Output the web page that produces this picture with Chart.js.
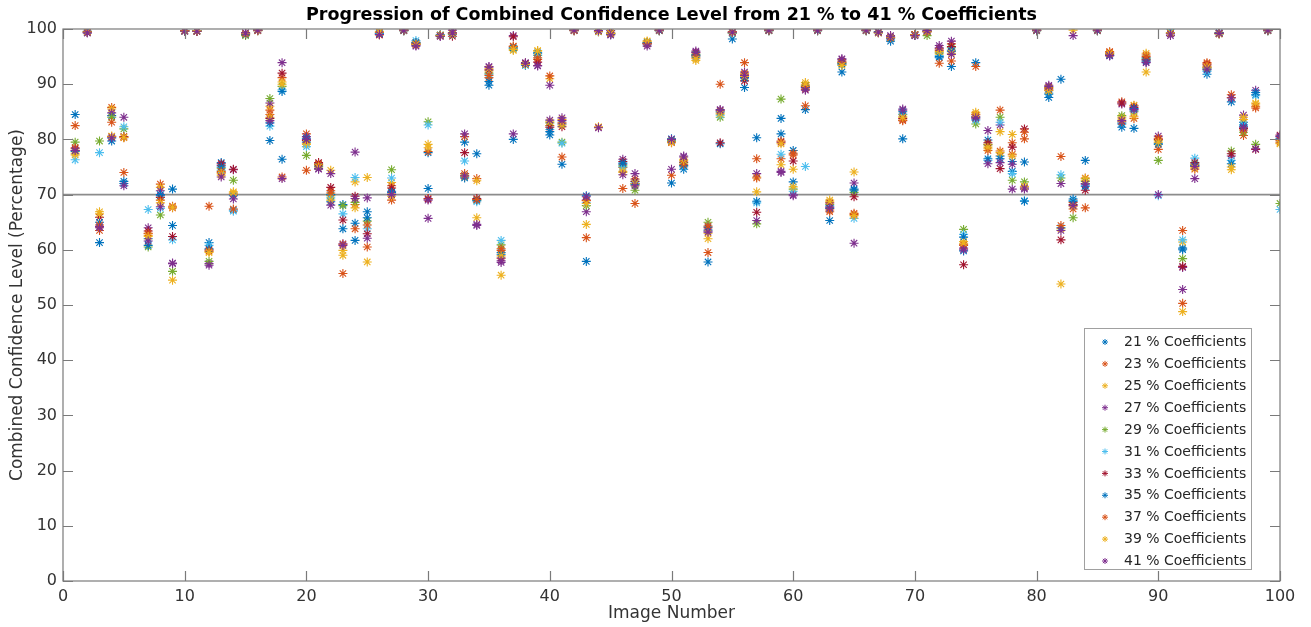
<!DOCTYPE html>
<html>
<head>
<meta charset="utf-8">
<script src="https://cdn.jsdelivr.net/npm/chart.js@4.4.1/dist/chart.umd.min.js"></script>
<style>
  html, body { margin: 0; padding: 0; background: #fff; }
  #wrap { width: 1311px; height: 627px; }
</style>
</head>
<body>
<div id="wrap"><canvas id="chart" width="1311" height="627"></canvas></div>
<script>
// image numbers on the x axis
const imageNumbers = [1,2,3,4,5,6,7,8,9,10,11,12,13,14,15,16,17,18,19,20,
  21,22,23,24,25,26,27,28,29,30,31,32,33,34,35,36,37,38,39,40,
  41,42,43,44,45,46,47,48,49,50,51,52,53,54,55,56,57,58,59,60,
  61,62,63,64,65,66,67,68,69,70,71,72,73,74,75,76,77,78,79,80,
  81,82,83,84,85,86,87,88,89,90,91,92,93,94,95,96,97,98,99,100];

// confidence level (%) per image, one list per coefficient share (null = no point)
const coeff21 = [84.5,99.4,61.3,84.3,72.4,null,62.0,69.8,71.0,99.7,
  99.6,61.3,75.8,67.2,99.1,99.8,79.8,76.4,null,79.5,
  75.3,70.0,68.2,61.7,66.9,99.2,70.6,99.8,97.6,77.6,
  98.8,99.2,79.5,77.4,89.8,59.5,80.0,93.6,95.6,80.8,
  75.5,99.8,57.9,99.6,99.2,75.5,72.0,97.5,99.8,72.1,
  74.6,95.2,57.8,79.2,98.2,89.4,80.3,99.8,83.8,78.0,
  85.4,99.8,65.3,92.2,70.8,99.8,99.4,97.8,80.1,99.0,
  99.6,94.8,93.2,59.8,93.9,79.9,77.0,74.2,75.9,99.8,
  87.6,90.9,69.2,76.2,99.8,95.2,82.2,82.0,94.8,79.1,
  99.3,60.3,75.3,91.8,99.2,86.8,83.1,88.1,99.8,80.0];
const coeff23 = [82.5,99.5,63.5,85.8,80.3,null,62.9,71.9,67.9,99.6,
  99.7,67.9,74.0,70.1,99.2,99.8,85.3,91.2,null,81.0,
  75.6,70.7,55.7,68.2,60.5,98.9,71.6,99.7,97.5,69.3,
  98.9,99.1,80.5,72.9,91.2,59.9,96.9,93.7,94.5,82.5,
  76.8,99.7,62.2,82.2,99.1,74.9,72.8,97.4,99.7,73.5,
  75.3,94.8,59.5,90.0,99.3,93.9,76.5,99.7,76.5,77.5,
  86.1,99.7,66.9,93.8,66.6,99.7,99.3,98.4,83.5,98.9,
  99.5,96.1,97.3,61.0,93.2,79.1,85.3,79.4,80.1,99.7,
  89.2,76.9,68.6,73.0,99.7,95.8,86.8,86.1,95.3,78.2,
  99.2,63.5,75.4,93.9,99.1,88.1,80.7,85.7,99.7,79.5];
const coeff25 = [77.5,99.6,66.9,85.5,80.4,null,62.6,71.3,54.5,99.7,
  99.6,59.7,73.5,70.5,99.0,99.7,86.0,90.4,null,79.1,
  75.2,74.4,59.0,72.3,73.1,99.6,72.2,99.8,97.4,79.1,
  98.8,99.3,73.5,72.5,92.4,55.4,96.1,93.5,96.1,91.0,
  83.6,99.8,64.6,82.3,99.3,74.0,71.8,97.8,99.8,79.6,
  76.4,94.3,62.0,84.8,99.4,92.0,73.2,99.8,75.4,74.6,
  90.3,99.8,69.0,93.6,74.1,99.8,99.4,98.5,84.2,99.0,
  99.6,95.5,96.0,61.5,84.9,78.3,81.4,80.9,71.4,99.8,
  89.0,63.8,99.8,72.9,99.8,95.6,84.0,86.2,95.6,79.8,
  99.3,61.4,75.0,93.2,99.2,74.5,83.6,86.4,99.8,79.2];
const coeff27 = [78.0,99.3,64.2,84.8,84.0,null,64.0,70.7,57.6,99.6,
  99.7,57.5,75.3,74.5,99.3,99.8,86.6,93.9,null,80.5,
  74.7,73.8,61.1,77.7,69.4,99.3,70.1,99.8,97.0,65.7,
  98.7,99.8,81.0,64.4,93.2,57.7,98.8,93.9,93.4,89.8,
  83.9,99.8,66.9,82.1,99.7,76.4,73.8,97.3,99.8,74.6,
  77.0,96.0,63.4,85.4,99.5,92.2,73.8,99.8,74.2,70.0,
  89.4,99.8,67.8,94.5,72.1,99.8,99.5,98.8,85.5,98.8,
  99.8,97.0,97.8,60.3,83.7,81.6,82.6,71.0,71.0,99.8,
  89.8,72.0,98.8,72.0,99.8,95.1,86.4,85.5,94.0,80.6,
  98.8,56.8,72.9,93.0,99.3,77.0,84.4,88.9,99.8,80.5];
const coeff29 = [79.5,99.4,79.7,84.0,81.9,null,60.5,66.3,56.1,99.7,
  99.6,57.9,74.8,72.6,98.8,99.8,87.4,89.6,null,77.1,
  75.4,69.8,68.0,68.6,65.2,99.1,74.5,99.7,97.3,83.2,
  98.9,99.2,73.2,69.0,92.0,60.9,96.5,93.6,95.2,83.0,
  79.5,99.8,68.0,99.6,99.2,75.2,70.8,97.5,99.7,79.8,
  75.8,95.4,65.0,84.0,99.3,91.5,64.7,99.7,87.3,71.0,
  89.8,99.7,68.2,93.9,70.4,99.7,99.4,98.4,84.5,99.0,
  98.8,95.7,96.6,63.7,82.8,79.0,84.0,72.6,72.3,99.7,
  89.4,73.0,65.8,72.4,99.7,95.4,84.3,85.0,94.6,76.2,
  99.3,58.4,75.6,92.9,99.2,77.9,81.3,79.1,99.7,68.4];
const coeff31 = [76.3,99.5,77.6,80.2,82.3,null,67.3,67.5,61.8,99.6,
  99.7,60.8,74.4,67.0,99.1,99.7,82.4,89.0,null,78.7,
  75.0,69.4,66.5,73.1,63.8,99.2,73.0,99.8,97.9,82.6,
  98.8,99.1,76.1,68.7,91.8,61.7,96.4,93.4,95.3,81.8,
  79.3,99.7,68.5,99.6,99.1,75.0,72.3,97.4,99.8,79.7,
  75.0,95.0,64.2,84.4,99.2,91.0,68.5,99.8,77.3,70.6,
  75.1,99.8,68.0,93.5,65.7,99.8,99.3,98.3,84.6,98.9,
  99.6,95.2,96.2,62.8,83.5,76.2,83.1,73.8,68.9,99.8,
  88.4,73.6,68.9,71.6,99.8,95.3,83.0,85.2,94.5,69.8,
  100.0,61.8,76.6,92.3,99.1,76.2,82.7,87.9,99.8,67.3];
const coeff33 = [78.3,99.4,65.9,80.5,80.5,null,63.4,69.5,62.4,99.7,
  99.6,60.0,75.6,74.6,99.2,99.8,83.8,92.0,null,79.8,
  75.8,71.3,65.4,69.7,62.9,99.0,71.2,99.8,97.2,69.2,
  98.8,98.7,77.6,69.3,92.6,58.5,98.6,93.8,94.0,82.2,
  82.3,99.8,69.0,99.7,99.2,76.0,72.4,97.3,99.8,79.5,
  75.9,95.7,64.0,79.4,99.4,90.6,66.8,99.8,79.5,76.1,
  89.1,99.8,68.5,94.2,69.6,99.8,99.4,98.5,83.8,99.0,
  99.5,96.4,96.8,57.3,84.2,79.4,74.7,78.6,81.9,99.8,
  88.9,61.8,68.2,70.8,99.8,95.5,86.6,85.8,94.4,80.0,
  99.2,57.0,75.8,93.5,99.2,77.4,82.0,78.2,99.8,80.8];
const coeff35 = [77.8,99.6,65.0,79.7,72.0,null,60.8,70.0,64.4,99.6,
  99.7,60.2,75.0,69.8,99.0,99.8,83.0,88.7,null,80.2,
  75.1,68.7,63.8,64.8,65.8,99.1,70.4,99.7,97.5,71.1,
  98.9,99.0,73.0,69.0,90.5,59.2,96.6,93.5,95.7,81.4,
  82.8,99.8,69.8,99.5,99.0,75.7,71.9,97.5,99.7,80.1,
  75.2,95.3,63.6,85.0,99.3,91.2,68.8,99.7,81.0,72.3,
  89.5,99.7,67.5,93.7,71.0,99.7,99.5,98.2,85.0,98.9,
  99.6,95.0,96.0,62.3,84.0,76.5,76.5,76.0,68.8,99.7,
  88.2,64.0,68.8,71.5,99.7,95.2,82.8,85.6,94.2,79.3,
  99.3,60.0,75.2,92.6,99.3,75.6,82.4,88.5,99.7,80.2];
const coeff37 = [78.5,99.5,64.5,83.1,74.0,null,63.0,69.0,67.6,99.7,
  99.6,59.8,74.2,67.4,99.1,99.7,84.5,73.2,null,74.4,
  75.5,70.3,61.0,63.8,64.5,99.4,69.0,99.8,97.3,77.8,
  98.8,99.2,73.8,69.1,91.6,60.2,96.8,93.7,94.8,91.5,
  83.0,99.7,68.9,99.6,99.1,71.1,68.4,97.4,99.8,79.4,
  75.5,95.1,64.3,85.2,99.5,91.8,73.0,99.8,79.7,77.2,
  89.6,99.8,67.2,94.0,66.4,99.8,99.4,98.4,83.4,99.0,
  99.5,93.8,94.2,60.8,84.5,78.0,77.9,77.3,81.3,99.8,
  89.5,64.4,67.4,67.6,99.8,95.9,83.2,83.8,95.0,80.2,
  99.2,50.3,74.6,93.7,99.2,87.6,81.7,86.0,99.8,79.8];
const coeff39 = [77.2,99.4,66.5,80.6,80.4,null,62.4,68.5,67.7,99.6,
  99.7,59.5,73.8,70.3,99.2,99.8,84.0,90.0,null,79.3,
  75.0,69.0,59.9,67.6,57.8,99.5,69.7,99.8,97.2,78.5,
  98.8,99.1,73.4,65.8,92.8,58.9,96.3,93.6,96.0,83.2,
  82.6,99.8,68.4,99.5,99.2,74.2,72.0,97.8,99.8,79.5,
  76.2,94.6,63.0,84.6,99.3,91.4,70.5,99.8,79.2,71.4,
  90.0,99.8,68.7,93.4,66.2,99.8,99.3,98.5,84.0,98.9,
  99.6,95.9,95.6,61.2,84.6,78.6,77.6,77.0,71.5,99.8,
  88.8,53.8,67.9,72.6,99.8,95.6,83.7,84.2,92.2,79.5,
  99.3,48.8,74.8,93.1,99.1,75.0,84.0,86.6,99.8,79.3];
const coeff41 = [78.0,99.3,64.0,80.3,71.6,null,61.6,67.8,57.5,99.6,
  99.6,57.2,73.2,69.2,99.3,99.8,83.4,72.9,null,80.0,
  74.6,68.1,60.8,69.3,62.1,99.0,70.0,99.8,96.9,69.0,
  98.7,99.3,73.4,64.6,93.1,58.0,81.0,93.8,93.3,83.5,
  83.4,99.8,69.6,99.7,98.9,73.6,71.6,96.9,99.8,80.0,
  76.8,95.8,63.2,85.3,99.4,91.6,65.3,99.8,74.0,69.8,
  88.9,99.8,67.6,94.6,61.2,99.8,99.4,98.6,85.3,98.8,
  99.7,96.6,95.4,60.0,83.9,75.6,75.8,75.5,71.2,99.8,
  89.6,63.5,68.0,71.9,99.8,95.2,83.4,85.4,93.9,70.0,
  99.1,52.8,75.1,92.7,99.2,87.5,82.2,78.3,99.8,80.6];

const seriesValues = [coeff21, coeff23, coeff25, coeff27, coeff29, coeff31,
  coeff33, coeff35, coeff37, coeff39, coeff41];
const seriesLabels = ['21 % Coefficients', '23 % Coefficients', '25 % Coefficients',
  '27 % Coefficients', '29 % Coefficients', '31 % Coefficients', '33 % Coefficients',
  '35 % Coefficients', '37 % Coefficients', '39 % Coefficients', '41 % Coefficients'];
const seriesColors = ['#0072BD', '#D95319', '#EDB120', '#7E2F8E', '#77AC30', '#4DBEEE',
  '#A2142F', '#0072BD', '#D95319', '#EDB120', '#7E2F8E'];

// 70 % reference line
const thresholdX = [0, 100];
const thresholdY = [70, 70];

const chartTitle = 'Progression of Combined Confidence Level from 21 % to 41 % Coefficients';
const FONT = "'DejaVu Sans', sans-serif";
const AXIS_COLOR = '#7a7a7a';

const datasets = seriesValues.map((vals, i) => ({
  type: 'scatter',
  label: seriesLabels[i],
  data: imageNumbers.map((x, j) => ({ x: x, y: vals[j] })).filter(p => p.y !== null),
  pointStyle: 'star',
  pointRadius: 4.5,
  pointBorderWidth: 1.1,
  borderColor: seriesColors[i],
  backgroundColor: seriesColors[i],
  order: seriesValues.length - i,   // later series drawn on top, like MATLAB
  clip: 0
}));
datasets.push({
  type: 'line',
  label: 'threshold',
  data: thresholdX.map((x, i) => ({ x: x, y: thresholdY[i] })),
  borderColor: '#8c8c8c',
  borderWidth: 1.6,
  pointRadius: 0,
  order: 50
});

// box, inward ticks, title over the axes and a MATLAB-style legend
const matlabAxes = {
  id: 'matlabAxes',
  afterDatasetsDraw(chart) {
    const { ctx, chartArea: a, scales } = chart;
    const tickLen = 10;
    ctx.save();
    ctx.strokeStyle = AXIS_COLOR;
    ctx.lineWidth = 1.2;
    ctx.strokeRect(a.left, a.top, a.right - a.left, a.bottom - a.top);
    ctx.beginPath();
    scales.x.ticks.forEach(t => {
      const px = Math.round(scales.x.getPixelForValue(t.value)) + 0.5;
      ctx.moveTo(px, a.bottom); ctx.lineTo(px, a.bottom - tickLen);
      ctx.moveTo(px, a.top); ctx.lineTo(px, a.top + tickLen);
    });
    scales.y.ticks.forEach(t => {
      const py = Math.round(scales.y.getPixelForValue(t.value)) + 0.5;
      ctx.moveTo(a.left, py); ctx.lineTo(a.left + tickLen, py);
      ctx.moveTo(a.right, py); ctx.lineTo(a.right - tickLen, py);
    });
    ctx.stroke();

    // title, centred on the axes box
    ctx.fillStyle = '#000';
    ctx.font = 'bold 17.5px ' + FONT;
    ctx.textAlign = 'center';
    ctx.textBaseline = 'middle';
    ctx.fillText(chartTitle, (a.left + a.right) / 2, 15);

    // legend
    const boxW = 167, boxH = 241;
    const bx = a.right - 29 - boxW;
    const by = a.bottom - 12 - boxH;
    ctx.fillStyle = '#ffffff';
    ctx.fillRect(bx, by, boxW, boxH);
    ctx.strokeStyle = '#a0a0a0';
    ctx.lineWidth = 1;
    ctx.strokeRect(bx + 0.5, by + 0.5, boxW, boxH);
    ctx.font = '14px ' + FONT;
    ctx.textAlign = 'left';
    seriesLabels.forEach((label, i) => {
      const y = by + 14 + i * 21.9;
      ctx.strokeStyle = seriesColors[i];
      ctx.fillStyle = seriesColors[i];
      Chart.helpers.drawPoint(ctx, { pointStyle: 'star', radius: 3, borderWidth: 1 }, bx + 21, y);
      ctx.fillStyle = '#262626';
      ctx.fillText(label, bx + 40, y + 0.5);
    });
    ctx.restore();
  }
};

new Chart(document.getElementById('chart'), {
  data: { datasets: datasets },
  options: {
    responsive: false,
    animation: false,
    events: [],
    layout: { padding: { left: 0, right: 31, top: 29, bottom: 0 } },
    plugins: {
      legend: { display: false },
      tooltip: { enabled: false },
      title: { display: false }
    },
    scales: {
      x: {
        type: 'linear',
        min: 0,
        max: 100,
        afterFit: s => { s.height = 46; },
        grid: { display: false, drawTicks: false },
        border: { display: false },
        ticks: { stepSize: 10, color: '#333', padding: 6, font: { family: FONT, size: 16 } },
        title: {
          display: true, text: 'Image Number', color: '#333',
          font: { family: FONT, size: 17 }, padding: { top: 3, bottom: 3 }
        }
      },
      y: {
        type: 'linear',
        min: 0,
        max: 100,
        afterFit: s => { s.width = 63; },
        grid: { display: false, drawTicks: false },
        border: { display: false },
        ticks: { stepSize: 10, color: '#333', padding: 6, font: { family: FONT, size: 16 } },
        title: {
          display: true, text: 'Combined Confidence Level (Percentage)', color: '#333',
          font: { family: FONT, size: 17 }, padding: { top: 7, bottom: 0 }
        }
      }
    }
  },
  plugins: [matlabAxes]
});
</script>
</body>
</html>
